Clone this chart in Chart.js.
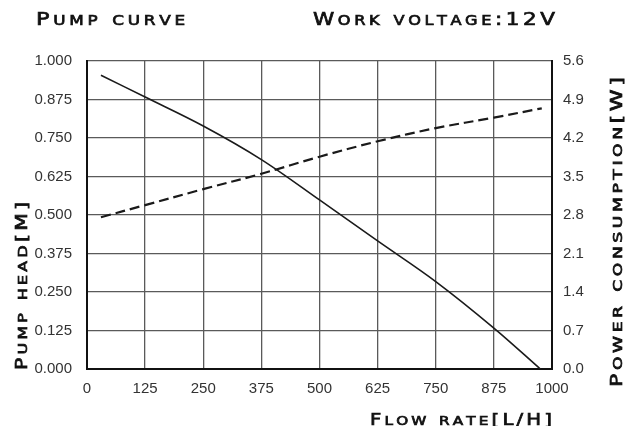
<!DOCTYPE html>
<html>
<head>
<meta charset="utf-8">
<script src="https://cdn.jsdelivr.net/npm/chart.js@4/dist/chart.umd.min.js"></script>
<style>
html,body{margin:0;padding:0;background:#fff;}
#c{display:block;}
</style>
</head>
<body>
<canvas id="c" width="639" height="426"></canvas>
<script>
// ---- data ----
const headFlow  = [30, 125, 250, 375, 500, 625, 750, 875, 975];
const headValue = [0.954, 0.883, 0.789, 0.680, 0.549, 0.416, 0.284, 0.133, 0.000];
const powerFlow  = [30, 125, 250, 375, 500, 625, 750, 875, 978];
const powerValue = [2.76, 2.98, 3.27, 3.55, 3.86, 4.14, 4.38, 4.57, 4.74];
const flowTicks  = [0, 125, 250, 375, 500, 625, 750, 875, 1000];
const headTicks  = [0, 0.125, 0.25, 0.375, 0.5, 0.625, 0.75, 0.875, 1.0];
const powerTicks = [0, 0.7, 1.4, 2.1, 2.8, 3.5, 4.2, 4.9, 5.6];
const chartTitle = "Pump curve";
const voltageText = "Work voltage:12V";
const xTitle = "Flow rate[L/H]";
const yTitle = "Pump head[M]";
const y2Title = "Power consumption[W]";

// draw text as small caps: lowercase letters become smaller capitals
function smallCaps(ctx, text, x, y, big, small, spacing, width) {
  const fam = '"DejaVu Sans"';
  const parts = [...text].map(ch => {
    const lower = ch !== ch.toUpperCase();
    return { ch: ch.toUpperCase(), size: lower ? small : big };
  });
  let total = 0;
  parts.forEach(p => { ctx.font = p.size + 'px ' + fam; p.w = ctx.measureText(p.ch).width; total += p.w + spacing; });
  total -= spacing;
  ctx.save();
  ctx.translate(x, y);
  ctx.scale(width / total, 1);
  let cx = 0;
  parts.forEach(p => {
    ctx.font = p.size + 'px ' + fam;
    ctx.fillText(p.ch, cx, 0);
    ctx.strokeText(p.ch, cx, 0);
    cx += p.w + spacing;
  });
  ctx.restore();
}

const titlePlugin = {
  id: 'smallCapsTitles',
  afterDraw(chart) {
    const ctx = chart.ctx;
    ctx.save();
    ctx.fillStyle = '#111';
    ctx.strokeStyle = '#111';
    ctx.lineWidth = 0.7;
    ctx.textAlign = 'left';
    ctx.textBaseline = 'alphabetic';
    smallCaps(ctx, chartTitle, 36, 25, 18, 13.5, 3, 149);
    smallCaps(ctx, voltageText, 313, 25, 18, 13.5, 3, 242);
    smallCaps(ctx, xTitle, 370, 425, 15.5, 12, 2.5, 182);
    ctx.save();
    ctx.translate(27, 370);
    ctx.rotate(-Math.PI / 2);
    smallCaps(ctx, yTitle, 0, 0, 15.5, 12, 2.5, 168);
    ctx.restore();
    ctx.save();
    ctx.translate(622, 387);
    ctx.rotate(-Math.PI / 2);
    smallCaps(ctx, y2Title, 0, 0, 15.5, 12, 2.5, 310);
    ctx.restore();
    ctx.restore();
  }
};

const tickFont = { family: '"Liberation Sans", Arial, sans-serif', size: 15 };
const gridCfg = { color: '#5a5a5a', lineWidth: 1.3, drawTicks: false };
const borderCfg = { display: true, color: '#111', width: 2 };

new Chart(document.getElementById('c'), {
  type: 'line',
  data: {
    datasets: [
      {
        label: 'Pump head',
        data: headFlow.map((f, i) => ({ x: f, y: headValue[i] })),
        borderColor: '#1a1a1a',
        borderWidth: 1.6,
        pointRadius: 0,
        tension: 0.35,
        yAxisID: 'y'
      },
      {
        label: 'Power consumption',
        data: powerFlow.map((f, i) => ({ x: f, y: powerValue[i] })),
        borderColor: '#1a1a1a',
        borderWidth: 2.2,
        borderDash: [10, 5],
        pointRadius: 0,
        tension: 0.35,
        yAxisID: 'y2'
      }
    ]
  },
  options: {
    responsive: false,
    animation: false,
    layout: { padding: { top: 61, bottom: 0, left: 0, right: 0 } },
    plugins: { legend: { display: false }, tooltip: { enabled: false }, title: { display: false } },
    scales: {
      x: {
        type: 'linear', position: 'bottom', min: 0, max: 1000,
        afterBuildTicks(s) { s.ticks = flowTicks.map(v => ({ value: v })); },
        afterFit(s) { s.height = 57; },
        ticks: { font: tickFont, color: '#333', padding: 11, maxRotation: 0, callback: v => String(v) },
        grid: gridCfg, border: borderCfg
      },
      y: {
        type: 'linear', position: 'left', min: 0, max: 1,
        afterBuildTicks(s) { s.ticks = headTicks.map(v => ({ value: v })); },
        afterFit(s) { s.width = 87; },
        ticks: { font: tickFont, color: '#333', padding: 15, callback: v => Number(v).toFixed(3) },
        grid: gridCfg, border: borderCfg
      },
      y2: {
        type: 'linear', position: 'right', min: 0, max: 5.6,
        afterBuildTicks(s) { s.ticks = powerTicks.map(v => ({ value: v })); },
        afterFit(s) { s.width = 87; },
        ticks: { font: tickFont, color: '#333', padding: 11, callback: v => Number(v).toFixed(1) },
        grid: { drawOnChartArea: false, drawTicks: false }, border: borderCfg
      }
    }
  },
  plugins: [titlePlugin]
});
</script>
</body>
</html>
